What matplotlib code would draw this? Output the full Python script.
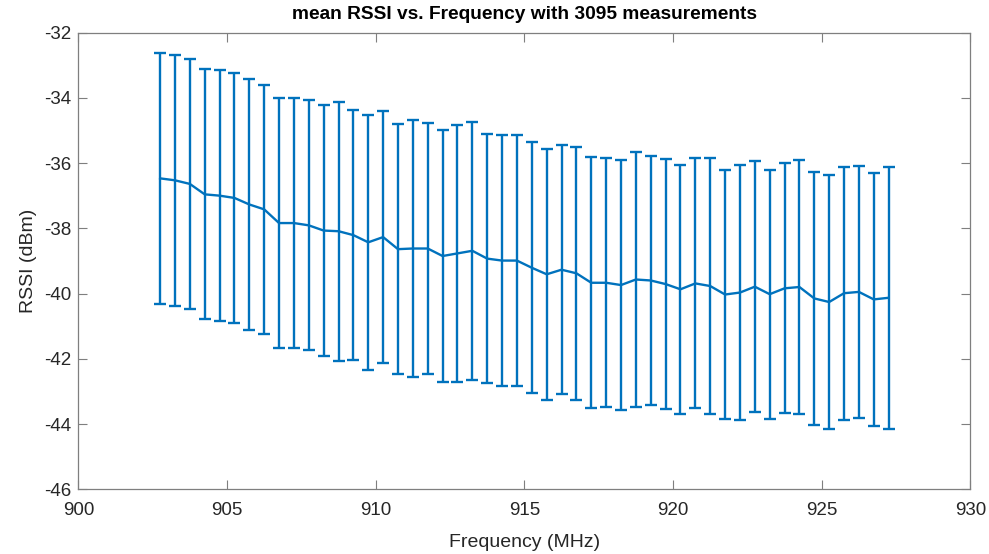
import matplotlib.pyplot as plt

# channel centre frequencies (MHz)
freq = [902.75, 903.25, 903.75, 904.25, 904.75, 905.25, 905.75, 906.25, 906.75, 907.25,
        907.75, 908.25, 908.75, 909.25, 909.75, 910.25, 910.75, 911.25, 911.75, 912.25,
        912.75, 913.25, 913.75, 914.25, 914.75, 915.25, 915.75, 916.25, 916.75, 917.25,
        917.75, 918.25, 918.75, 919.25, 919.75, 920.25, 920.75, 921.25, 921.75, 922.25,
        922.75, 923.25, 923.75, 924.25, 924.75, 925.25, 925.75, 926.25, 926.75, 927.25]

# mean RSSI per channel (dBm)
rssi_mean = [-36.47, -36.53, -36.64, -36.96, -37.00, -37.07, -37.27, -37.42, -37.84, -37.84,
             -37.91, -38.07, -38.09, -38.21, -38.43, -38.27, -38.64, -38.62, -38.62, -38.85,
             -38.77, -38.69, -38.93, -38.99, -38.99, -39.21, -39.41, -39.27, -39.38, -39.67,
             -39.67, -39.74, -39.57, -39.60, -39.71, -39.87, -39.69, -39.77, -40.03, -39.97,
             -39.79, -40.02, -39.84, -39.80, -40.15, -40.26, -39.99, -39.95, -40.18, -40.13]

# standard deviation per channel (dB)
rssi_std = [3.84, 3.85, 3.84, 3.83, 3.84, 3.84, 3.84, 3.82, 3.84, 3.84,
            3.83, 3.84, 3.97, 3.84, 3.91, 3.85, 3.83, 3.94, 3.84, 3.85,
            3.94, 3.95, 3.82, 3.84, 3.85, 3.85, 3.84, 3.82, 3.87, 3.84,
            3.82, 3.82, 3.92, 3.83, 3.83, 3.81, 3.83, 3.93, 3.82, 3.92,
            3.85, 3.82, 3.83, 3.90, 3.87, 3.88, 3.88, 3.86, 3.88, 4.01]

n_meas = 3095

plt.rcParams['font.family'] = ['Liberation Sans', 'DejaVu Sans']
plt.rcParams['axes.unicode_minus'] = False
txt = '#262626'
edge = '#7f7f7f'

fig = plt.figure(figsize=(9.89, 5.54), dpi=100)
ax = fig.add_axes([0.0792, 0.1168, 0.902, 0.8245])

ax.errorbar(freq, rssi_mean, yerr=rssi_std, color='#0072BD', lw=1.7,
            elinewidth=1.7, capsize=4, capthick=1.7)

ax.set_xlim(900, 930)
ax.set_ylim(-46, -32)
ax.set_xticks(range(900, 931, 5))
ax.set_yticks(range(-46, -31, 2))

ax.tick_params(direction='in', length=6.5, width=0.8, top=True, right=True,
               labelsize=13.5, colors=edge, labelcolor=txt)
ax.tick_params(axis='x', pad=9)
ax.tick_params(axis='y', pad=5)
for s in ax.spines.values():
    s.set_color(edge)
    s.set_linewidth(0.9)

ax.set_xlabel('Frequency (MHz)', fontsize=14, color=txt, labelpad=11)
ax.set_ylabel('RSSI (dBm)', fontsize=14, color=txt, labelpad=5)
ax.set_title(f'mean RSSI vs. Frequency with {n_meas} measurements',
             fontsize=13.8, fontweight='bold', color='black', pad=10)

fig.savefig('out.png', dpi=100)
